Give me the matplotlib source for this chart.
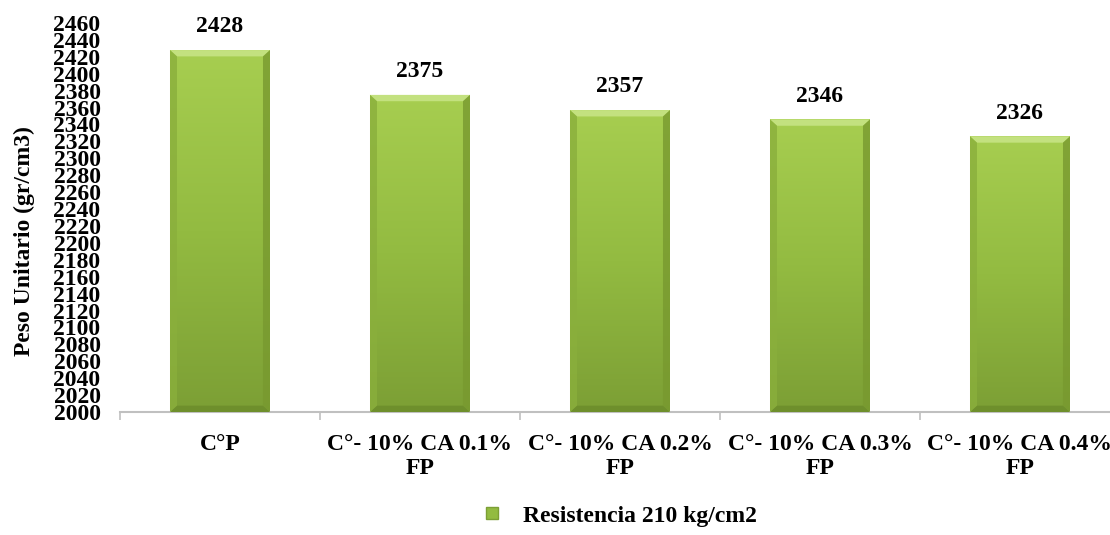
import numpy as np
import matplotlib.pyplot as plt
from matplotlib.colors import LinearSegmentedColormap
from matplotlib.patches import Polygon
from matplotlib.lines import Line2D

categories = ['C°P', 'C°- 10% CA 0.1%\nFP', 'C°- 10% CA 0.2%\nFP',
              'C°- 10% CA 0.3%\nFP', 'C°- 10% CA 0.4%\nFP']
values = [2428, 2375, 2357, 2346, 2326]
series_name = 'Resistencia 210 kg/cm2'
y_ticks = list(range(2000, 2461, 20))

plt.rcParams['font.family'] = ['Liberation Serif', 'DejaVu Serif']
plt.rcParams['font.weight'] = 'bold'
fs = 17

fig = plt.figure(figsize=(11.1, 5.35), dpi=100)
ax = fig.add_axes([0.1081, 0.2299, 0.9009, 0.7271])

ymin, ymax = 2000, 2460
ind = np.arange(len(values))
width = 0.5

bars = ax.bar(ind, values, width, color='none', edgecolor='none', zorder=2)

# vertical green gradient with a bevelled edge on each bar
green = LinearSegmentedColormap.from_list('bar', ['#7c9f35', '#93bb41', '#a7ce50'])
grad = np.linspace(0, 1, 256).reshape(-1, 1)
for rect in bars:
    x0 = rect.get_x()
    x1 = x0 + rect.get_width()
    top = rect.get_height()
    im = ax.imshow(grad, cmap=green, origin='lower', aspect='auto',
                   extent=[x0, x1, ymin, top], zorder=2)
    im.set_clip_path(rect)
    bx = 0.035
    by = 7.5
    ax.add_patch(Polygon([(x0, top), (x1, top), (x1 - bx, top - by), (x0 + bx, top - by)],
                         closed=True, facecolor='#c3e17f', edgecolor='none', zorder=3))
    ax.add_patch(Polygon([(x0, ymin), (x1, ymin), (x1 - bx, ymin + by), (x0 + bx, ymin + by)],
                         closed=True, facecolor='#6e8f2c', edgecolor='none', zorder=3))
    ax.add_patch(Polygon([(x0, ymin), (x0 + bx, ymin + by), (x0 + bx, top - by), (x0, top)],
                         closed=True, facecolor='#8aaf3c', alpha=0.8, edgecolor='none', zorder=3))
    ax.add_patch(Polygon([(x1, ymin), (x1 - bx, ymin + by), (x1 - bx, top - by), (x1, top)],
                         closed=True, facecolor='#78992f', alpha=0.8, edgecolor='none', zorder=3))
    ax.text(rect.get_x() + rect.get_width() / 2, top + 15, '{}'.format(top),
            ha='center', va='bottom', fontsize=fs, fontweight='bold')

ax.set_xlim(-0.5, len(values) - 0.5)
ax.set_ylim(ymin, ymax)
ax.set_yticks(y_ticks)
ax.set_yticklabels([str(t) for t in y_ticks], fontsize=fs, fontweight='bold')
ax.tick_params(axis='y', length=0, pad=14)

# category labels between the boundary ticks
ax.set_xticks(ind)
ax.set_xticklabels(categories, fontsize=fs, fontweight='bold', linespacing=1.15)
ax.tick_params(axis='x', length=0, pad=16)
ax.set_xticks(np.arange(len(values) + 1) - 0.5, minor=True)
ax.tick_params(axis='x', which='minor', length=6, color='#c0c0c0', width=1.2, direction='out')

for s in ['top', 'right', 'left']:
    ax.spines[s].set_visible(False)
ax.spines['bottom'].set_color('#c0c0c0')
ax.spines['bottom'].set_linewidth(1.5)

ax.set_ylabel('Peso Unitario (gr/cm3)', fontsize=fs, fontweight='bold')
ax.yaxis.set_label_coords(-0.085, 0.44)

handle = Line2D([], [], marker='s', linestyle='none', markersize=8,
                markerfacecolor='#93bb41', markeredgecolor='#7c9f35')
fig.legend([handle], [series_name], loc='center', bbox_to_anchor=(0.552, 0.036),
           frameon=False, prop={'size': fs, 'weight': 'bold'}, handletextpad=0.3)

fig.savefig('out.png', dpi=100)
